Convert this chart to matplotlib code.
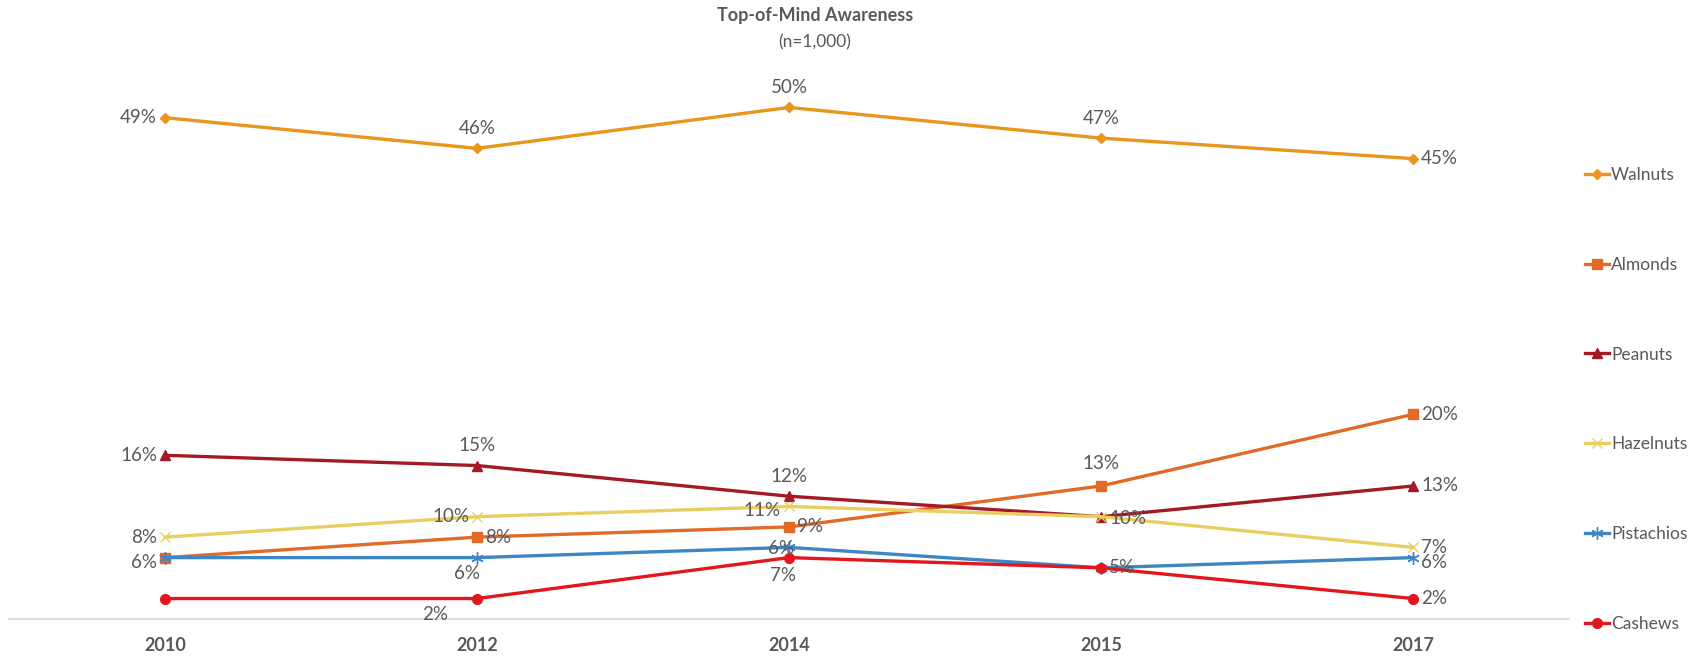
import matplotlib
matplotlib.use("Agg")
import matplotlib.pyplot as plt

plt.rcParams['font.family'] = ['Lato', 'DejaVu Sans']

years = ['2010', '2012', '2014', '2015', '2017']
walnuts = [49, 46, 50, 47, 45]
almonds = [6, 8, 9, 13, 20]
peanuts = [16, 15, 12, 10, 13]
hazelnuts = [8, 10, 11, 10, 7]
pistachios = [6, 6, 7, 5, 6]
cashews = [2, 2, 6, 5, 2]

GREY = '#595959'

# name, values, colour, marker, marker size, label offsets (px) per point (None = no label)
series = [
    ('Walnuts', walnuts, '#E8961E', 'D', 5,
     [(-22, 0), (0, 20), (0, 20), (0, 20), (28, 0)]),
    ('Almonds', almonds, '#E06A28', 's', 7,
     [None, (22, 0), (22, 0), (0, 22), (32, 0)]),
    ('Peanuts', peanuts, '#A31A24', '^', 7,
     [(-26, 0), (0, 20), (0, 20), (30, -2), (28, 0)]),
    ('Hazelnuts', hazelnuts, '#E8CF60', 'x', 7,
     [(-22, 0), (-26, 0), (-34, -4), None, (22, 0)]),
    ('Pistachios', pistachios, '#3E86C4', (6, 2, 0), 9,
     [(-22, -5), (-10, -16), (-6, -28), None, (22, -5)]),
    ('Cashews', cashews, '#E2161E', 'o', 7,
     [None, (-42, -16), (-8, 9), (16, 0), (22, 0)]),
]

fig = plt.figure(figsize=(17.03, 6.57), dpi=100)
ax = fig.add_axes([9 / 1703, 38 / 657, 1560 / 1703, 0.8565])

x = list(range(len(years)))
for name, vals, col, mk, ms, offs in series:
    ax.plot(x, vals, color=col, lw=2.4, marker=mk, markersize=ms,
            markeredgecolor=col, markerfacecolor=col, label=name)
    for xi, v, off in zip(x, vals, offs):
        if off is None:
            continue
        ha = 'center'
        if off[0] < -15 and off[1] > -10:
            ha = 'right'
        elif off[0] > 15:
            ha = 'left'
        dx = off[0] if ha == 'center' else off[0] / abs(off[0]) * 8
        ax.annotate(f'{v}%', (xi, v), xytext=(dx, off[1]),
                    textcoords='offset pixels', ha=ha, va='center',
                    fontsize=13.5, color=GREY)

ax.set_xlim(-0.5, 4.5)
ax.set_ylim(0, 55)
ax.set_xticks(x)
ax.set_xticklabels(years, fontsize=13, fontweight='bold', color=GREY)
ax.tick_params(axis='x', length=0, pad=13)
ax.set_yticks([])
for side in ['top', 'left', 'right']:
    ax.spines[side].set_visible(False)
ax.spines['bottom'].set_color('#D9D9D9')
ax.spines['bottom'].set_linewidth(1.2)

fig.text(815 / 1703, 1 - 16 / 657, 'Top-of-Mind Awareness', ha='center', va='center',
         fontsize=13, fontweight='bold', color=GREY)
fig.text(815 / 1703, 1 - 42 / 657, '(n=1,000)', ha='center', va='center',
         fontsize=12.5, color=GREY)

leg = fig.legend(loc='upper left', bbox_to_anchor=(1578 / 1703, 1 - 160 / 657),
                 frameon=False, fontsize=12.5, labelspacing=4.25,
                 handlelength=1.4, handletextpad=0.1, borderaxespad=0)
for t in leg.get_texts():
    t.set_color(GREY)

fig.savefig('out.png', dpi=100)
